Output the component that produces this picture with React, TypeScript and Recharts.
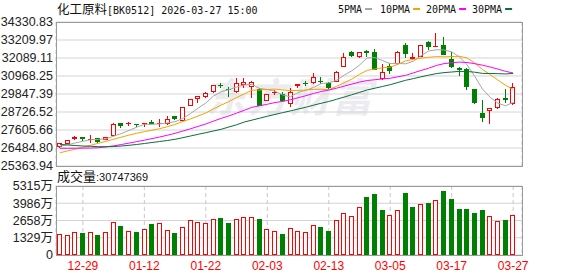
import { ComposedChart, Bar, Line, XAxis, YAxis, CartesianGrid } from 'recharts';

// trading days shown (MM-DD)
const dates = [
  '12-24', '12-25', '12-26', '12-29', '12-30', '12-31', '01-05', '01-06', '01-07', '01-08',
  '01-09', '01-12', '01-13', '01-14', '01-15', '01-16', '01-19', '01-20', '01-21', '01-22',
  '01-23', '01-26', '01-27', '01-28', '01-29', '01-30', '02-02', '02-03', '02-04', '02-05',
  '02-06', '02-09', '02-10', '02-11', '02-12', '02-13', '02-24', '02-25', '02-26', '02-27',
  '03-02', '03-03', '03-04', '03-05', '03-06', '03-09', '03-10', '03-11', '03-12', '03-13',
  '03-16', '03-17', '03-18', '03-19', '03-20', '03-23', '03-24', '03-25', '03-26', '03-27',
];

const opens = [
  26566, 26753, 27064, 27150, 27000, 27089, 26990, 27251, 28042, 27990,
  27980, 27990, 28104, 27995, 27998, 28477, 28185, 29100, 29517, 29642,
  29953, 30420, 30160, 29990, 30420, 30302, 30140, 29430, 29890, 29847,
  29225, 30346, 30530, 30513, 30680, 30551, 30613, 31547, 32444, 32133,
  32525, 32444, 30781, 31591, 31697, 32899, 32027, 32170, 33067, 32830,
  32899, 32027, 31485, 31385, 30159, 28645, 28789, 28957, 29580, 29206,
];
const highs = [
  26800, 27000, 27232, 27170, 27294, 27100, 27170, 28060, 28060, 28122,
  28000, 28060, 28228, 28271, 28477, 28500, 29030, 29530, 29740, 29990,
  30420, 30551, 30302, 30825, 30825, 30676, 30240, 29870, 30096, 29990,
  30240, 30470, 30657, 31174, 30887, 30570, 31250, 32382, 32544, 32460,
  32587, 32650, 31697, 31796, 32500, 33004, 32382, 32920, 33166, 33627,
  33378, 32444, 31500, 31447, 30180, 29474, 28970, 29580, 30159, 30551,
];
const lows = [
  26503, 26740, 26983, 26920, 26777, 26777, 26970, 27240, 27749, 27873,
  27774, 27810, 27960, 27810, 27917, 28250, 28170, 29090, 29268, 29580,
  29940, 30202, 29642, 29891, 30202, 29580, 29080, 29400, 29785, 29330,
  29057, 30202, 30316, 30500, 30440, 30180, 30600, 31530, 32133, 32120,
  32133, 31320, 30719, 31093, 31680, 32108, 31964, 32150, 32587, 32830,
  32260, 31447, 30968, 30096, 29250, 28122, 27979, 28940, 29306, 29190,
];
const closes = [
  26777, 26964, 27150, 27045, 27060, 26877, 27150, 27960, 27873, 28023,
  27898, 28023, 27980, 28023, 28309, 28272, 29019, 29517, 29723, 29928,
  30408, 30390, 30140, 30551, 30570, 30590, 29100, 29847, 29990, 29430,
  29990, 30454, 30500, 30887, 30657, 30202, 31236, 32133, 32232, 32444,
  32420, 31342, 31199, 31298, 32481, 32319, 32133, 32899, 32793, 32855,
  32276, 31547, 31342, 30302, 29268, 28334, 28957, 29536, 29474, 30302,
];

// moving averages
const ma5 = [
  26600, 26690, 26800, 26900, 26999, 27019, 27056, 27218, 27384, 27577,
  27781, 27955, 27959, 27989, 28047, 28121, 28321, 28628, 28968, 29292,
  29719, 29993, 30118, 30283, 30412, 30448, 30190, 30132, 30019, 29791,
  29671, 29942, 30073, 30252, 30498, 30540, 30696, 31023, 31292, 31649,
  32093, 32114, 31927, 31741, 31748, 31728, 31886, 32226, 32525, 32600,
  32591, 32474, 32163, 31664, 30947, 30159, 29641, 29279, 29114, 29321,
];
const ma10 = [
  26190, 26300, 26410, 26530, 26650, 26780, 26900, 27030, 27160, 27288,
  27400, 27506, 27589, 27687, 27812, 27951, 28138, 28294, 28479, 28669,
  28920, 29157, 29373, 29626, 29852, 30084, 30092, 30125, 30151, 30102,
  30060, 30066, 30102, 30136, 30145, 30106, 30319, 30548, 30772, 31074,
  31317, 31405, 31475, 31516, 31699, 31910, 32000, 32077, 32133, 32174,
  32160, 32180, 32194, 32095, 31773, 31375, 31057, 30721, 30389, 30134,
];
const ma20 = [
  26466, 26466, 26470, 26475, 26480, 26500, 26550, 26620, 26700, 26790,
  26880, 26970, 27070, 27170, 27280, 27400, 27540, 27680, 27830, 27979,
  28160, 28331, 28481, 28656, 28832, 29017, 29115, 29209, 29315, 29385,
  29490, 29612, 29738, 29881, 29998, 30095, 30206, 30336, 30462, 30588,
  30688, 30736, 30789, 30826, 30922, 31008, 31160, 31312, 31452, 31624,
  31738, 31793, 31835, 31806, 31736, 31643, 31529, 31399, 31261, 31154,
];
const ma30 = [
  26715, 26672, 26640, 26609, 26591, 26566, 26566, 26578, 26609, 26653,
  26703, 26765, 26827, 26890, 26952, 27027, 27126, 27232, 27338, 27438,
  27544, 27650, 27793, 27930, 28100, 28220, 28340, 28460, 28575, 28686,
  28793, 28910, 29021, 29149, 29269, 29380, 29516, 29655, 29801, 29948,
  30099, 30209, 30317, 30426, 30565, 30700, 30804, 30916, 31019, 31116,
  31179, 31217, 31257, 31249, 31206, 31130, 31126, 31115, 31098, 31127,
];

// volume in 万 (10k)
const volumes = [
  1594, 1517, 1748, 1694, 1748, 1540, 1748, 2518, 2233, 1825,
  1771, 1979, 2387, 2441, 1925, 1694, 2133, 2695, 2541, 2464,
  2749, 2849, 2464, 2749, 2903, 2903, 2772, 2002, 1848, 1617,
  2056, 1848, 1748, 2287, 2156, 1848, 2672, 3211, 2980, 3673,
  4466, 4697, 3465, 3057, 3442, 4774, 3696, 3904, 4004, 4212,
  4928, 4312, 3542, 3542, 3234, 3465, 2980, 2618, 2695, 3075,
];

const priceTicks = [25363.94, 26484.8, 27605.66, 28726.52, 29847.39, 30968.25, 32089.11, 33209.97, 34330.83];
const volTicks = [0, 1329, 2658, 3986, 5315];
const dateTicks = ['12-29', '01-12', '01-22', '02-03', '02-13', '03-05', '03-17', '03-27'];
const maNames = ['5PMA', '10PMA', '20PMA', '30PMA'];
const maKeys = ['ma5', 'ma10', 'ma20', 'ma30'];
const maColors = ['#a6a6a6', '#f5a300', '#ff00ff', '#0a6e3c'];

const RED = '#ff0000';
const GREEN = '#008000';
const LABEL_FONT = "'Liberation Sans', 'Noto Sans CJK SC', sans-serif";
const MONO = "'DejaVu Sans Mono', monospace";
const CJK = "'Noto Sans CJK SC', sans-serif";

const rows = dates.map((date, i) => ({
  date,
  open: opens[i],
  high: highs[i],
  low: lows[i],
  close: closes[i],
  range: [lows[i], highs[i]],
  ma5: ma5[i],
  ma10: ma10[i],
  ma20: ma20[i],
  ma30: ma30[i],
  vol: volumes[i],
  volUp: i === 0 ? true : closes[i] >= closes[i - 1],
}));

function Candle(props: any) {
  const { x, y, width, height, payload } = props;
  if (!payload || x == null) return null;
  const top = Math.min(y, y + height);
  const h = Math.abs(height);
  const span = payload.high - payload.low;
  const k = span > 0 ? h / span : 0;
  const hi = Math.max(payload.open, payload.close);
  const lo = Math.min(payload.open, payload.close);
  const bTop = Math.round(top + (payload.high - hi) * k);
  const bBot = Math.round(top + (payload.high - lo) * k);
  const wTop = Math.round(top);
  const wBot = Math.round(top + h);
  const cx = Math.floor(x + width / 2) + 0.5;
  const up = payload.close >= payload.open;

  if (up) {
    const bh = bBot - bTop;
    return (
      <g>
        {wTop < bTop && <line x1={cx} x2={cx} y1={wTop} y2={bTop} stroke={RED} />}
        {wBot > bBot && <line x1={cx} x2={cx} y1={bBot} y2={wBot} stroke={RED} />}
        {bh >= 2 ? (
          <rect x={cx - 2} y={bTop + 0.5} width={4} height={bh - 1} fill="#fff" stroke={RED} />
        ) : (
          <line x1={cx - 2.5} x2={cx + 2.5} y1={bTop + 0.5} y2={bTop + 0.5} stroke={RED} />
        )}
      </g>
    );
  }
  return (
    <g>
      <line x1={cx} x2={cx} y1={wTop} y2={wBot} stroke={GREEN} />
      <rect x={cx - 2.5} y={bTop} width={5} height={Math.max(bBot - bTop, 1)} fill={GREEN} />
    </g>
  );
}

function VolBar(props: any) {
  const { x, y, width, height, payload } = props;
  if (!payload || x == null) return null;
  const cx = Math.floor(x + width / 2) + 0.5;
  const top = Math.round(y);
  const bottom = Math.round(y + height);
  if (payload.volUp) {
    return <rect x={cx - 2} y={top + 0.5} width={4} height={bottom - top - 1} fill="#fff" stroke={RED} />;
  }
  return <rect x={cx - 2.5} y={top} width={5} height={bottom - top} fill={GREEN} />;
}

const frame = (top: number, height: number) => ({
  position: 'absolute' as const,
  left: 56,
  top,
  width: 467,
  height,
  border: '1px solid #9a9a9a',
  boxSizing: 'border-box' as const,
  pointerEvents: 'none' as const,
});

export default function App() {
  return (
    <div style={{ position: 'absolute', left: 0, top: 0, width: 578, height: 276, background: '#fff', overflow: 'hidden' }}>
      <div
        style={{
          position: 'absolute', left: 206, top: 66, fontSize: 40, fontWeight: 700, fontStyle: 'italic',
          color: '#ececf0', fontFamily: CJK, letterSpacing: 2, whiteSpace: 'nowrap',
        }}
      >
        东方财富
      </div>

      <svg width={578} height={276} style={{ position: 'absolute', left: 0, top: 0 }}>
        <text x={57} y={13.5} fill="#111">
          <tspan fontFamily={CJK} fontSize={12.5}>化工原料</tspan>
          <tspan fontFamily={MONO} fontSize={10}>[BK0512] 2026-03-27 15:00</tspan>
        </text>
        {maNames.map((name, i) => {
          const starts = [338, 380, 426, 472];
          const w = name.length * 6.02;
          return (
            <g key={name}>
              <text x={starts[i]} y={12.7} fontFamily={MONO} fontSize={10} fill="#111">{name}</text>
              <line x1={starts[i] + w + 3} x2={starts[i] + w + 10} y1={9} y2={9} stroke={maColors[i]} strokeWidth={2} />
            </g>
          );
        })}
        <text x={57} y={180.7} fill="#111">
          <tspan fontFamily={CJK} fontSize={13}>成交量</tspan>
          <tspan fontFamily={LABEL_FONT} fontSize={11}>:30747369</tspan>
        </text>
      </svg>

      <div style={{ position: 'absolute', left: 0, top: 0 }}>
        <ComposedChart width={578} height={176} data={rows} margin={{ top: 22, right: 56, bottom: 10, left: 0 }}>
          <CartesianGrid vertical={false} stroke="#d4d4d4" />
          <CartesianGrid horizontal={false} stroke="#c8c8c8" strokeDasharray="4 3" />
          <XAxis
            dataKey="date"
            ticks={dateTicks}
            interval={0}
            height={0}
            tick={false}
            tickLine={false}
            axisLine={false}
            padding={{ left: 0, right: 5 }}
          />
          <YAxis
            domain={[25363.94, 34330.83]}
            ticks={priceTicks}
            interval={0}
            width={56}
            allowDataOverflow
            axisLine={false}
            tickLine={false}
            tickSize={0}
            tickMargin={3}
            tick={{ fill: '#222', fontSize: 12.5, fontFamily: LABEL_FONT }}
            tickFormatter={(v: number) => v.toFixed(2)}
          />
          <Bar dataKey="range" barSize={5} shape={(p: any) => <Candle {...p} />} isAnimationActive={false} />
          {maKeys.map((k, i) => (
            <Line
              key={k}
              dataKey={k}
              type="linear"
              stroke={maColors[i]}
              strokeWidth={1}
              dot={false}
              activeDot={false}
              isAnimationActive={false}
            />
          ))}
        </ComposedChart>
      </div>

      <div style={{ position: 'absolute', left: 0, top: 170 }}>
        <ComposedChart width={578} height={106} data={rows} margin={{ top: 16, right: 56, bottom: 0, left: 0 }}>
          <CartesianGrid vertical={false} stroke="#d4d4d4" />
          <CartesianGrid horizontal={false} stroke="#c8c8c8" strokeDasharray="4 3" />
          <XAxis
            dataKey="date"
            ticks={dateTicks}
            interval={0}
            height={21}
            tickLine={false}
            axisLine={false}
            tickSize={0}
            tickMargin={6}
            padding={{ left: 0, right: 5 }}
            tick={{ fill: RED, fontSize: 12, fontFamily: LABEL_FONT }}
          />
          <YAxis
            domain={[0, 5315]}
            ticks={volTicks}
            interval={0}
            width={56}
            allowDataOverflow
            axisLine={false}
            tickLine={false}
            tickSize={0}
            tickMargin={3}
            tick={{ fill: '#222', fontSize: 12.5, fontFamily: LABEL_FONT }}
            tickFormatter={(v: number) => (v === 0 ? '0' : `${v}万`)}
          />
          <Bar dataKey="vol" barSize={5} shape={(p: any) => <VolBar {...p} />} isAnimationActive={false} />
        </ComposedChart>
      </div>

      <div style={frame(22, 145)} />
      <div style={frame(186, 70)} />
    </div>
  );
}
